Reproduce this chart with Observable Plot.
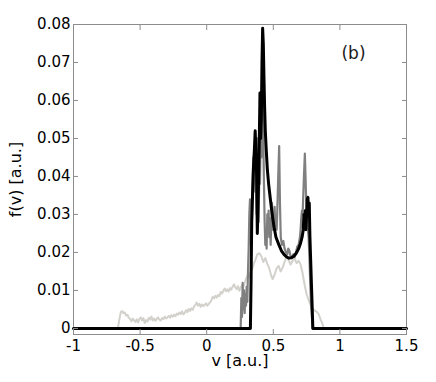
<!DOCTYPE html>
<html>
<head>
<meta charset="utf-8">
<script src="https://cdn.jsdelivr.net/npm/d3@7"></script>
<script src="https://cdn.jsdelivr.net/npm/@observablehq/plot@0.6"></script>
<style>
  html, body { margin: 0; padding: 0; background: #fff; }
  #chart { width: 436px; height: 382px; }
</style>
</head>
<body>
<div id="chart"></div>
<script>
// ---- data ----
const xTicks = [-1, -0.5, 0, 0.5, 1, 1.5];
const yTicks = [0, 0.01, 0.02, 0.03, 0.04, 0.05, 0.06, 0.07, 0.08];
const xLabel = "v [a.u.]";
const yLabel = "f(v) [a.u.]";
const panelTag = "(b)";

// light grey series [v, f(v)]
const lightSeries = [
  [-0.667,0],[-0.655,0.0025],[-0.645,0.0043],[-0.635,0.0046],[-0.625,0.004],[-0.615,0.0042],[-0.605,0.0034],
  [-0.595,0.0036],[-0.585,0.0028],[-0.575,0.0025],[-0.565,0.0019],[-0.555,0.0026],[-0.545,0.0021],[-0.535,0.0017],
  [-0.525,0.0024],[-0.515,0.0016],[-0.505,0.0025],[-0.495,0.0029],[-0.485,0.0021],[-0.475,0.0027],[-0.465,0.0014],
  [-0.455,0.0022],[-0.445,0.0018],[-0.435,0.0028],[-0.425,0.0023],[-0.415,0.0031],[-0.405,0.0021],[-0.395,0.0026],
  [-0.385,0.002],[-0.375,0.0025],[-0.365,0.0029],[-0.355,0.0023],[-0.345,0.0021],[-0.335,0.0027],[-0.325,0.0025],
  [-0.315,0.0031],[-0.305,0.0026],[-0.295,0.0029],[-0.285,0.0033],[-0.275,0.0028],[-0.265,0.0035],[-0.255,0.0031],
  [-0.245,0.0036],[-0.235,0.0032],[-0.225,0.0039],[-0.215,0.0036],[-0.205,0.0042],[-0.195,0.0038],[-0.185,0.0045],
  [-0.175,0.0037],[-0.165,0.0041],[-0.155,0.0048],[-0.145,0.0043],[-0.135,0.0051],[-0.125,0.0046],[-0.115,0.0053],
  [-0.105,0.0049],[-0.095,0.0058],[-0.085,0.0062],[-0.075,0.0068],[-0.065,0.006],[-0.055,0.0065],[-0.045,0.0057],
  [-0.035,0.0063],[-0.025,0.0059],[-0.015,0.0062],[-0.005,0.0066],[0.005,0.006],[0.015,0.0064],[0.025,0.0069],
  [0.035,0.0074],[0.045,0.0083],[0.055,0.0079],[0.065,0.0086],[0.075,0.0081],[0.085,0.0088],[0.095,0.0085],
  [0.105,0.0096],[0.115,0.0092],[0.125,0.0099],[0.135,0.0105],[0.145,0.0098],[0.155,0.0103],[0.165,0.0097],
  [0.175,0.0106],[0.185,0.0102],[0.195,0.011],[0.205,0.0116],[0.215,0.0108],[0.225,0.0103],[0.235,0.0111],
  [0.245,0.0099],[0.255,0.0107],[0.265,0.0114],[0.275,0.0109],[0.285,0.012],[0.295,0.013],[0.305,0.0138],
  [0.315,0.0133],[0.325,0.0145],[0.335,0.0152],[0.345,0.016],[0.355,0.0172],[0.365,0.018],[0.38,0.0195],
  [0.395,0.0198],[0.41,0.019],[0.425,0.0175],[0.44,0.0185],[0.455,0.017],[0.47,0.0158],[0.485,0.0138],
  [0.495,0.013],[0.51,0.0142],[0.525,0.0158],[0.54,0.0165],[0.555,0.015],[0.57,0.016],[0.585,0.0175],
  [0.6,0.0192],[0.615,0.018],[0.63,0.0168],[0.645,0.0178],[0.66,0.0185],[0.675,0.0172],[0.69,0.0178],
  [0.705,0.0168],[0.72,0.0145],[0.735,0.0115],[0.75,0.009],[0.765,0.0075],[0.78,0.0062],[0.795,0.0052],
  [0.81,0.0047],[0.825,0.0044],[0.84,0.0038],[0.855,0.0024],[0.865,0.0016],[0.875,0.0005],[0.88,0]
];

// medium grey series [v, f(v)]
const greySeries = [
  [0.255,0],[0.26,0.008],[0.265,0.003],[0.27,0.012],[0.275,0.005],[0.28,0.01],[0.285,0.004],[0.29,0.009],
  [0.295,0.006],[0.3,0.011],[0.305,0.007],[0.31,0.015],[0.315,0.021],[0.32,0.03],[0.325,0.034],[0.33,0.022],
  [0.335,0.033],[0.34,0.029],[0.345,0.04],[0.35,0.045],[0.355,0.038],[0.36,0.048],[0.365,0.036],[0.37,0.042],
  [0.375,0.03],[0.38,0.05],[0.385,0.035],[0.39,0.028],[0.395,0.042],[0.4,0.038],[0.405,0.052],[0.41,0.045],
  [0.415,0.06],[0.42,0.064],[0.425,0.05],[0.43,0.038],[0.435,0.028],[0.44,0.022],[0.445,0.026],[0.45,0.021],
  [0.455,0.03],[0.46,0.025],[0.465,0.031],[0.47,0.024],[0.475,0.029],[0.48,0.022],[0.485,0.028],[0.49,0.033],
  [0.495,0.026],[0.5,0.03],[0.505,0.028],[0.51,0.032],[0.515,0.027],[0.52,0.029],[0.525,0.026],[0.53,0.031],
  [0.537,0.04],[0.544,0.048],[0.55,0.033],[0.556,0.024],[0.565,0.022],[0.575,0.023],[0.585,0.021],[0.595,0.02],
  [0.605,0.0195],[0.612,0.021],[0.62,0.0205],[0.63,0.019],[0.64,0.0185],[0.65,0.0195],[0.66,0.0188],[0.67,0.02],
  [0.68,0.0215],[0.69,0.022],[0.7,0.024],[0.705,0.026],[0.71,0.029],[0.715,0.031],[0.72,0.03],[0.725,0.035],
  [0.73,0.04],[0.737,0.046],[0.742,0.04],[0.747,0.033],[0.752,0.03],[0.758,0.027],[0.765,0.024],[0.772,0.018],
  [0.778,0.011],[0.784,0.006],[0.79,0.003],[0.795,0]
];

// black series [v, f(v)]
const blackSeries = [
  [-1,0],[0.328,0],[0.333,0.012],[0.338,0.028],[0.345,0.036],[0.352,0.043],[0.358,0.047],[0.364,0.052],
  [0.37,0.046],[0.375,0.04],[0.38,0.025],[0.385,0.032],[0.39,0.04],[0.395,0.05],[0.4,0.062],[0.405,0.05],
  [0.41,0.055],[0.415,0.07],[0.42,0.079],[0.425,0.075],[0.43,0.066],[0.435,0.058],[0.44,0.052],[0.447,0.047],
  [0.455,0.042],[0.465,0.038],[0.478,0.034],[0.49,0.0305],[0.504,0.027],[0.52,0.024],[0.54,0.0222],[0.56,0.0205],
  [0.58,0.0195],[0.6,0.0188],[0.617,0.0185],[0.635,0.0186],[0.654,0.019],[0.672,0.0198],[0.69,0.021],
  [0.705,0.0225],[0.716,0.024],[0.725,0.026],[0.73,0.03],[0.735,0.027],[0.74,0.031],[0.745,0.026],[0.75,0.03],
  [0.755,0.034],[0.76,0.0345],[0.765,0.03],[0.77,0.033],[0.775,0.024],[0.786,0.012],[0.797,0],[1.5,0]
];

const frameGrey = "#8c8c8c";

const chart = Plot.plot({
  width: 436,
  height: 382,
  marginLeft: 73,
  marginRight: 30,
  marginTop: 24,
  marginBottom: 48,
  style: { fontFamily: "DejaVu Sans, Verdana, sans-serif", fontSize: "15px", background: "#fff", color: "#000" },
  x: { domain: [-1, 1.5] },
  y: { domain: [-0.0016, 0.08] },
  marks: [
    Plot.frame({ stroke: frameGrey }),
    Plot.line(lightSeries, { x: d => d[0], y: d => d[1], stroke: "#d3d1cb", strokeWidth: 2 }),
    Plot.line(greySeries, { x: d => d[0], y: d => d[1], stroke: "#808080", strokeWidth: 2.2 }),
    Plot.line(blackSeries, { x: d => d[0], y: d => d[1], stroke: "#000", strokeWidth: 3 }),
    Plot.axisX({ anchor: "bottom", ticks: xTicks, tickFormat: d => String(d), tickSize: -5, tickPadding: 11,
      stroke: frameGrey, fill: "#000", label: null, fontSize: 15 }),
    Plot.axisX({ anchor: "bottom", ticks: [], tickSize: 0, label: xLabel, labelAnchor: "center", labelArrow: false,
      labelOffset: 31, fontSize: 16, fill: "#000" }),
    Plot.axisX({ anchor: "top", ticks: xTicks, tickFormat: () => "", tickSize: -5, stroke: frameGrey, label: null }),
    Plot.axisY({ anchor: "left", ticks: yTicks, tickFormat: d => String(d), tickSize: -5, tickPadding: 8,
      stroke: frameGrey, fill: "#000", label: null, fontSize: 15 }),
    Plot.axisY({ anchor: "left", ticks: [], tickSize: 0, label: yLabel, labelAnchor: "center", labelArrow: false,
      labelOffset: 64, fontSize: 16, fill: "#000" }),
    Plot.axisY({ anchor: "right", ticks: yTicks, tickFormat: () => "", tickSize: -5, stroke: frameGrey, label: null }),
    Plot.text([panelTag], { frameAnchor: "top-right", text: d => d, dx: -53, dy: 29, fontSize: 17, fill: "#1a1a1a", textAnchor: "middle", lineAnchor: "middle" })
  ]
});
document.getElementById("chart").appendChild(chart);
</script>
</body>
</html>
